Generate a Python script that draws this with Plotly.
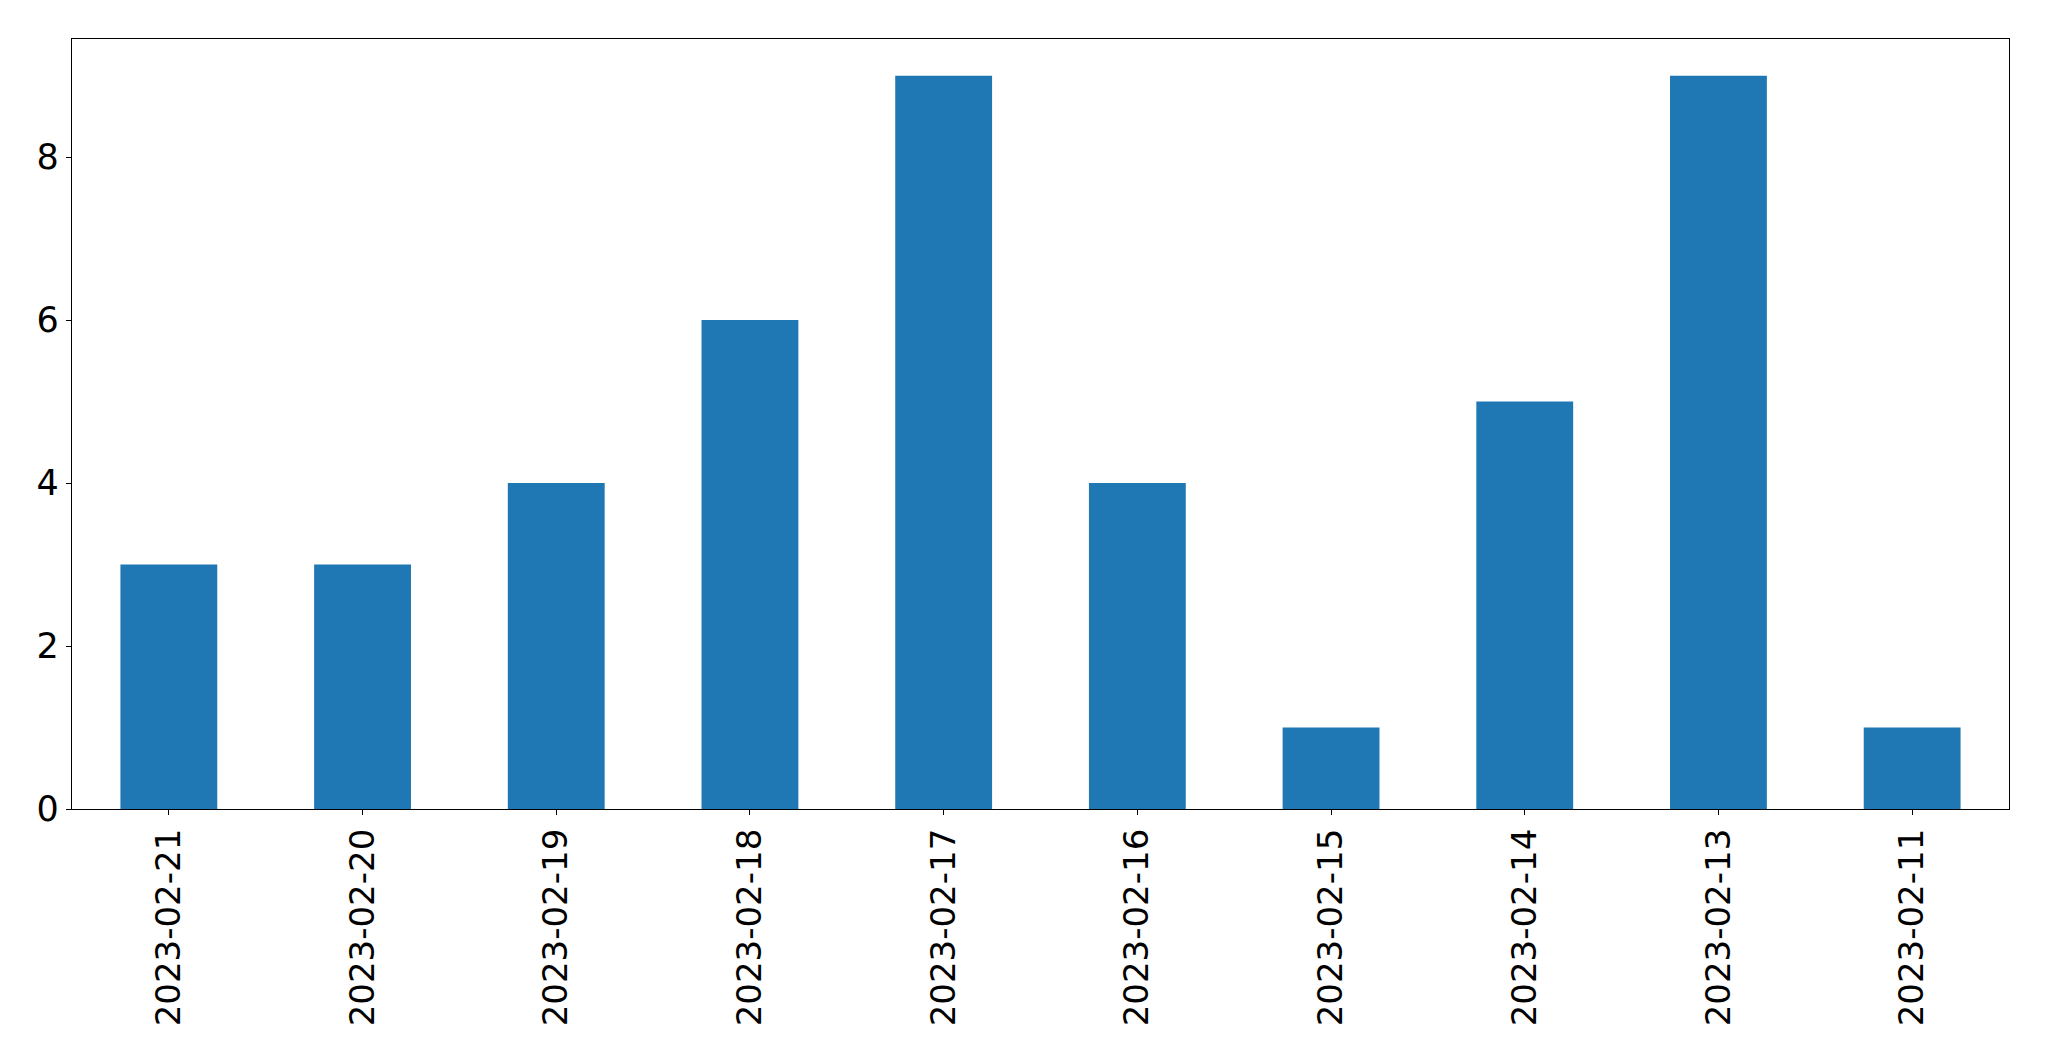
import plotly.graph_objects as go

dates = ["2023-02-21", "2023-02-20", "2023-02-19", "2023-02-18", "2023-02-17",
         "2023-02-16", "2023-02-15", "2023-02-14", "2023-02-13", "2023-02-11"]
counts = [3, 3, 4, 6, 9, 4, 1, 5, 9, 1]
y_ticks = [0, 2, 4, 6, 8]

fig = go.Figure(go.Bar(x=dates, y=counts, marker_color="#1f77b4",
                       marker_line_width=0, width=0.5))

font = dict(family="DejaVu Sans", size=34, color="black")
fig.update_layout(
    width=2041, height=1053,
    margin=dict(l=64, r=40, t=31, b=252, autoexpand=False),
    paper_bgcolor="white", plot_bgcolor="white",
    showlegend=False, font=font,
)
fig.update_xaxes(type="category", range=[-0.5, len(dates) - 0.5],
                 tickangle=-90, showline=True, mirror=True, linecolor="black",
                 linewidth=1.3, ticks="outside", ticklen=5, tickwidth=1.3,
                 tickcolor="black", showgrid=False, tickfont=font)
fig.update_yaxes(range=[0, 9.45], tickvals=y_ticks, showline=True, mirror=True,
                 linecolor="black", linewidth=1.3, ticks="outside", ticklen=5,
                 tickwidth=1.3, tickcolor="black", showgrid=False, zeroline=False,
                 tickfont=dict(family="DejaVu Sans", size=35, color="black"))

fig.write_html("out.html")
